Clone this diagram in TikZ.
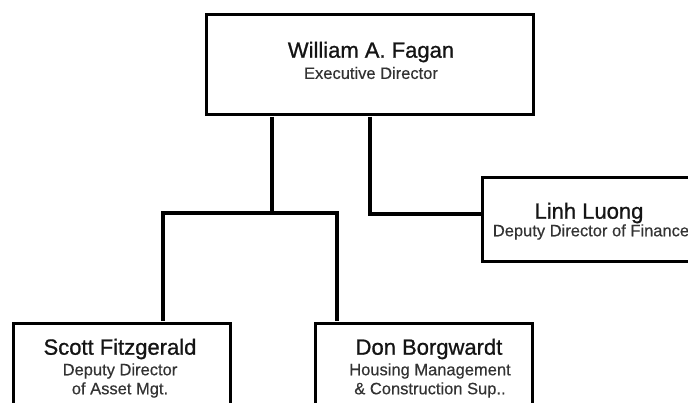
\documentclass[tikz,border=0pt]{standalone}
\usepackage{fontspec}
\setmainfont{Liberation Sans}
\newfontfamily\namefont[FakeBold=0.9]{Liberation Sans}
\newfontfamily\subfont[FakeBold=0.4]{Liberation Sans}
\begin{document}
\begin{tikzpicture}[x=1pt,y=-1pt,
  box/.style={draw=black,line width=2.5pt,fill=white,inner sep=0pt,anchor=north west},
  conn/.style={draw=black,line width=3.5pt},
  nm/.style={font=\namefont\fontsize{22}{24}\selectfont,text=black!92,inner sep=0pt},
  sub/.style={font=\subfont\fontsize{16.5}{19}\selectfont,text=black!80,inner sep=0pt,align=center}]
\clip (0,0) rectangle (688,402);
\fill[white] (0,0) rectangle (688,402);
% boxes
\node[box,minimum width=327pt,minimum height=100pt] (top) at (205,13) {};
\node[box,minimum width=220pt,minimum height=84pt] (linh) at (481,176) {};
\node[box,minimum width=217pt,minimum height=120pt] (scott) at (12,322) {};
\node[box,minimum width=217pt,minimum height=120pt] (don) at (314,322) {};
% texts
\node[nm] (topn) at (371,52) {William A. Fagan};
\node[sub] (topt) at (371,73) {Executive Director};
\node[nm] (linhn) at (589,213) {Linh Luong};
\node[sub] (linht) at (591,232) {Deputy Director of Finance};
\node[nm] (scottn) at (120,349) {Scott Fitzgerald};
\node[sub] (scottt1) at (120,371) {Deputy Director};
\node[sub] (scottt2) at (120,390) {of Asset Mgt.};
\node[nm] (donn) at (429,349) {Don Borgwardt};
\node[sub] (dont1) at (430,371) {Housing Management};
\node[sub] (dont2) at (430,390) {\& Construction Sup..};
% connector points
\coordinate (j1) at (272,213);
\coordinate (sx) at (163,213);
\coordinate (dx) at (337,213);
\coordinate (lx) at (370,214);
% connectors
\draw[conn] ([yshift=-1pt]top.south -| j1) -- (j1);
\draw[conn] ([yshift=1pt]scott.north -| sx) -- (sx) -- (dx) -- ([yshift=1pt]don.north -| dx);
\draw[conn] ([yshift=-1pt]top.south -| lx) -- (lx) -- ([xshift=1pt]lx -| linh.west);
\end{tikzpicture}
\end{document}
